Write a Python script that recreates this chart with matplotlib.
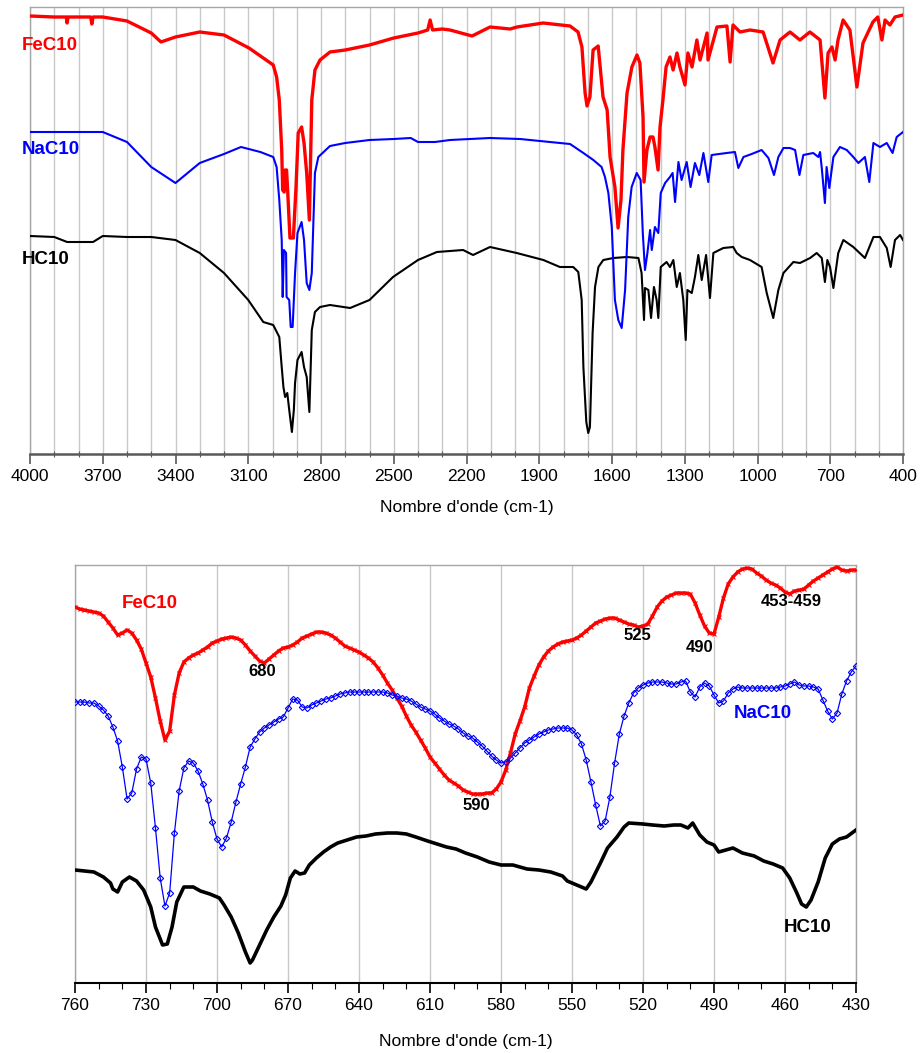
import matplotlib
matplotlib.use("Agg")
import matplotlib.pyplot as plt
import numpy as np
from matplotlib.ticker import FixedLocator

plt.rcParams['font.family'] = ['Liberation Sans', 'DejaVu Sans']

# ---------------- top panel data (wavenumber cm-1, transmittance a.u.) ----------------
fe_top_wn = [4000, 3900, 3850, 3847, 3843, 3750, 3745, 3740, 3700, 3600, 3500, 3460, 3400, 3300, 3200,
             3097, 3038, 2997, 2983, 2972, 2962, 2958, 2952, 2948, 2942, 2937, 2928, 2914, 2903, 2894,
             2880, 2870, 2859, 2848, 2838, 2825, 2804, 2763, 2700, 2600, 2500, 2400, 2360, 2350, 2340,
             2300, 2268, 2177, 2103, 2020, 1992, 1884, 1773, 1740, 1724, 1711, 1703, 1691, 1678, 1657,
             1637, 1620, 1608, 1588, 1575, 1563, 1555, 1538, 1518, 1497, 1485, 1472, 1468, 1456, 1443,
             1431, 1423, 1410, 1402, 1390, 1377, 1361, 1348, 1332, 1320, 1299, 1287, 1270, 1250, 1237,
             1208, 1204, 1167, 1126, 1113, 1101, 1072, 1031, 977, 957, 936, 907, 866, 825, 784, 742,
             722, 709, 693, 680, 668, 647, 619, 590, 565, 524, 504, 487, 474, 454, 433, 400]
fe_top_t = [438, 437, 437, 431, 437, 437, 430, 437, 437, 433, 421, 412, 417, 422, 419,
            406, 396, 389, 377, 354, 304, 264, 262, 284, 284, 261, 216, 216, 267, 321,
            327, 311, 281, 234, 354, 384, 394, 402, 404, 409, 416, 421, 424, 434, 424,
            425, 424, 418, 427, 425, 427, 431, 428, 422, 407, 361, 348, 357, 404, 408,
            357, 344, 297, 267, 226, 254, 304, 361, 387, 399, 391, 337, 272, 304, 317,
            317, 307, 284, 327, 354, 387, 397, 384, 401, 387, 369, 401, 387, 414, 394,
            421, 394, 427, 428, 392, 429, 422, 424, 422, 407, 391, 414, 422, 414, 422, 414,
            356, 401, 407, 394, 414, 434, 424, 367, 411, 432, 437, 414, 434, 429, 437, 439]

na_top_wn = [4000, 3700, 3600, 3500, 3400, 3300, 3200, 3130, 3050, 2997, 2983, 2972, 2962, 2958, 2953,
             2944, 2942, 2931, 2925, 2917, 2907, 2897, 2880, 2870, 2859, 2848, 2838, 2825, 2811, 2763,
             2700, 2600, 2500, 2430, 2400, 2330, 2268, 2103, 1979, 1856, 1773, 1718, 1677, 1643, 1629,
             1615, 1601, 1588, 1574, 1560, 1546, 1533, 1519, 1498, 1482, 1473, 1464, 1454, 1443, 1436,
             1423, 1409, 1399, 1381, 1361, 1350, 1340, 1326, 1313, 1292, 1276, 1258, 1240, 1223, 1203,
             1189, 1127, 1093, 1079, 1058, 1024, 983, 955, 932, 914, 893, 866, 845, 827, 811, 770,
             749, 742, 735, 722, 715, 704, 687, 660, 632, 605, 584, 557, 539, 522, 495, 467, 443,
             426, 400]
na_top_t = [322, 322, 312, 287, 271, 291, 300, 307, 302, 297, 287, 254, 214, 157, 204,
            201, 157, 154, 127, 127, 181, 221, 232, 214, 171, 164, 181, 281, 297, 308,
            311, 314, 315, 316, 312, 312, 314, 316, 315, 312, 310, 301, 294, 287, 277,
            261, 227, 154, 134, 126, 164, 237, 267, 281, 274, 221, 184, 201, 224, 204,
            227, 221, 261, 271, 277, 281, 252, 292, 274, 292, 267, 291, 279, 301, 272,
            299, 301, 302, 286, 297, 300, 304, 296, 279, 297, 306, 306, 304, 279, 299, 301,
            297, 302, 286, 251, 287, 266, 297, 307, 304, 297, 291, 297, 272, 311, 307, 311, 301,
            317, 322]

hc_top_wn = [4000, 3900, 3847, 3740, 3700, 3600, 3500, 3400, 3300, 3200, 3100, 3038, 2997, 2972, 2962,
             2955, 2948, 2939, 2931, 2920, 2912, 2907, 2897, 2880, 2870, 2859, 2848, 2838, 2825, 2804,
             2763, 2680, 2600, 2503, 2400, 2322, 2268, 2214, 2173, 2103, 1993, 1883, 1815, 1760, 1739,
             1725, 1718, 1706, 1698, 1691, 1680, 1670, 1656, 1636, 1594, 1539, 1491, 1478, 1468, 1464,
             1450, 1439, 1427, 1416, 1409, 1399, 1375, 1361, 1347, 1333, 1320, 1306, 1296, 1289, 1271,
             1258, 1244, 1230, 1212, 1196, 1182, 1141, 1100, 1086, 1065, 1031, 983, 962, 935, 914,
             893, 852, 825, 783, 756, 735, 722, 712, 701, 687, 667, 646, 605, 557, 522, 495, 467,
             451, 433, 412, 400]
hc_top_t = [218, 217, 212, 212, 218, 217, 217, 214, 201, 181, 154, 132, 129, 117, 87,
            67, 57, 61, 44, 22, 44, 71, 94, 102, 87, 77, 42, 124, 142, 147,
            149, 146, 154, 177, 194, 202, 203, 204, 199, 207, 201, 194, 187, 187, 182,
            154, 87, 32, 21, 27, 121, 167, 187, 194, 196, 197, 196, 181, 134, 166,
            164, 136, 167, 154, 136, 187, 192, 187, 194, 167, 181, 154, 114, 164, 161,
            177, 199, 174, 199, 156, 201, 206, 207, 201, 197, 194, 187, 161, 136, 164,
            181, 192, 191, 196, 201, 196, 172, 194, 187, 166, 201, 214, 207, 196, 217, 217, 206,
            187, 214, 219, 214]

# ---------------- bottom panel data (760-430 cm-1, step 2) ----------------
zoom_wn = list(range(760, 428, -2))
fe_zoom_t = [376, 374, 373, 372, 371, 370, 367, 361, 355, 348, 350, 353, 350, 343, 334, 320, 306, 285, 262, 243,
             252, 288, 310, 321, 325, 328, 330, 333, 336, 340, 342, 344, 345, 346, 345, 343, 338, 332, 327, 322,
             320, 324, 328, 332, 335, 336, 338, 341, 345, 347, 349, 351, 351, 350, 348, 345, 341, 337, 335, 333,
             331, 328, 325, 321, 315, 308, 300, 293, 285, 277, 267, 258, 251, 243, 235, 226, 220, 214, 208, 203,
             200, 197, 193, 191, 189, 189, 189, 190, 190, 194, 201, 213, 230, 249, 262, 276, 295, 307, 318, 326,
             332, 336, 339, 341, 342, 343, 345, 348, 352, 356, 360, 362, 364, 365, 365, 363, 361, 359, 358, 356,
             357, 359, 367, 376, 382, 386, 388, 390, 390, 390, 389, 380, 368, 357, 350, 349, 366, 385, 399, 406,
             411, 414, 415, 414, 410, 407, 403, 400, 398, 395, 391, 389, 392, 393, 394, 398, 402, 405, 408, 411,
             414, 416, 413, 412, 413, 413]
na_zoom_t = [281, 281, 281, 280, 280, 277, 273, 267, 256, 242, 216, 184, 190, 214, 226, 224, 200, 155, 105, 77,
             90, 150, 192, 215, 222, 220, 212, 199, 183, 161, 144, 136, 145, 161, 181, 199, 216, 236, 244, 251,
             255, 258, 261, 264, 266, 275, 284, 283, 276, 275, 278, 280, 282, 284, 285, 287, 289, 290, 291, 291,
             291, 291, 291, 291, 291, 291, 290, 288, 287, 285, 284, 282, 279, 276, 274, 272, 269, 265, 262, 259,
             257, 254, 250, 247, 245, 241, 237, 232, 227, 223, 220, 221, 225, 230, 235, 240, 243, 246, 249, 251,
             253, 254, 255, 255, 255, 253, 248, 239, 223, 201, 178, 157, 162, 186, 220, 249, 267, 280, 290, 295,
             298, 300, 301, 301, 301, 300, 299, 299, 301, 302, 291, 286, 296, 300, 297, 288, 280, 282, 290, 294,
             296, 295, 295, 295, 295, 295, 295, 295, 295, 296, 297, 299, 301, 298, 297, 297, 296, 294, 283, 272,
             264, 270, 289, 302, 311, 317]
hc_zoom_wn = [760, 752, 748, 745, 744, 742, 740, 737, 734, 731, 728, 726, 723, 721, 719, 717, 714, 710, 707, 703,
              699, 697, 694, 691, 688, 686, 685, 682, 679, 676, 673, 671, 669, 667, 665, 663, 661, 658, 655, 652,
              649, 645, 641, 637, 633, 628, 624, 620, 616, 611, 607, 603, 599, 595, 590, 585, 580, 575, 569, 564,
              559, 554, 552, 548, 544, 542, 538, 535, 531, 528, 526, 520, 516, 511, 507, 504, 501, 499, 496, 493,
              490, 488, 485, 482, 478, 473, 469, 465, 461, 458, 455, 453, 451, 449, 446, 443, 440, 437, 434, 430]
hc_zoom_t = [113, 111, 106, 100, 94, 91, 101, 106, 102, 93, 76, 56, 38, 39, 56, 81, 96, 96, 92, 89,
             85, 78, 66, 50, 31, 20, 23, 38, 53, 66, 77, 88, 105, 112, 109, 110, 118, 125, 131, 136,
             140, 143, 146, 147, 149, 150, 150, 149, 146, 142, 139, 136, 134, 130, 126, 121, 118, 118, 114, 113,
             111, 107, 102, 98, 94, 101, 120, 135, 146, 156, 160, 159, 158, 157, 158, 158, 155, 160, 148, 141,
             138, 131, 133, 135, 130, 127, 122, 119, 115, 105, 90, 79, 76, 83, 101, 125, 139, 144, 146, 153]

top_ticks = [4000, 3700, 3400, 3100, 2800, 2500, 2200, 1900, 1600, 1300, 1000, 700, 400]
bottom_ticks = [760, 730, 700, 670, 640, 610, 580, 550, 520, 490, 460, 430]

annot_text = ['680', '590', '525', '490', '453-459']

W, H = 921, 1053
fig = plt.figure(figsize=(W / 100, H / 100), dpi=100)


def fx(px):
    return px / W


def fy(py):
    return 1 - py / H


RED, BLUE = '#ff0000', '#0000ff'
GRID = '#c8c8c8'
FRAME = '#a6a6a6'

# ---------------- top axes ----------------
ax1 = fig.add_axes([fx(30), fy(454), fx(903) - fx(30), fy(7) - fy(454)])
ax1.plot(fe_top_wn, fe_top_t, color=RED, lw=2.4, zorder=3)
ax1.plot(na_top_wn, na_top_t, color=BLUE, lw=1.5, zorder=4)
ax1.plot(hc_top_wn, hc_top_t, color='black', lw=1.5, zorder=3)
ax1.set_xlim(4000, 400)
ax1.set_ylim(0, 447)
ax1.xaxis.set_major_locator(FixedLocator(top_ticks))
ax1.xaxis.set_minor_locator(FixedLocator(np.arange(400, 4001, 100)))
ax1.grid(True, which='minor', axis='x', color=GRID, lw=1.0)
ax1.grid(True, which='major', axis='x', color=GRID, lw=1.0)
ax1.set_yticks([])
for s in ['top', 'right', 'left']:
    ax1.spines[s].set_color(FRAME)
    ax1.spines[s].set_linewidth(1.0)
ax1.spines['bottom'].set_color('#595959')
ax1.spines['bottom'].set_linewidth(1.8)
ax1.tick_params(axis='x', which='major', direction='out', length=7, width=1.2, color='#595959',
                labelsize=12.5, pad=4)
ax1.tick_params(axis='x', which='minor', direction='inout', length=5, width=0.8, color='#595959')
ax1.set_xlabel("Nombre d'onde (cm-1)", fontsize=12.5, labelpad=11)
ax1.set_axisbelow(True)

lab_kw = dict(fontsize=13.5, fontweight='bold', ha='left', va='center')
fig.text(fx(22), fy(46), 'FeC10', color=RED, **lab_kw)
fig.text(fx(22), fy(150), 'NaC10', color=BLUE, **lab_kw)
fig.text(fx(22), fy(260), 'HC10', color='black', **lab_kw)

# ---------------- bottom axes ----------------
ax2 = fig.add_axes([fx(75), fy(983), fx(856) - fx(75), fy(565) - fy(983)])
ax2.plot(zoom_wn, fe_zoom_t, color=RED, lw=2.4, marker='x', ms=3.5, mew=0.8, zorder=3)
ax2.plot(zoom_wn, na_zoom_t, color=BLUE, lw=0.9, marker='D', ms=3.2, mfc='none', mew=0.8, zorder=4)
ax2.plot(hc_zoom_wn, hc_zoom_t, color='black', lw=2.6, zorder=3)
ax2.set_xlim(760, 430)
ax2.set_ylim(0, 418)
ax2.xaxis.set_major_locator(FixedLocator(bottom_ticks))
ax2.xaxis.set_minor_locator(FixedLocator(np.arange(430, 761, 10)))
ax2.grid(True, which='major', axis='x', color=GRID, lw=1.0)
ax2.set_yticks([])
for s in ['top', 'right', 'left']:
    ax2.spines[s].set_color(FRAME)
    ax2.spines[s].set_linewidth(1.0)
ax2.spines['bottom'].set_color('black')
ax2.spines['bottom'].set_linewidth(1.5)
ax2.tick_params(axis='x', which='major', direction='out', length=7, width=1.2, color='black',
                labelsize=12.5, pad=4)
ax2.tick_params(axis='x', which='minor', direction='out', length=4, width=0.8, color='black')
ax2.set_xlabel("Nombre d'onde (cm-1)", fontsize=12.5, labelpad=15)
ax2.set_axisbelow(True)

fig.text(fx(122), fy(603), 'FeC10', color=RED, **lab_kw)
fig.text(fx(734), fy(714), 'NaC10', color=BLUE, **lab_kw)
fig.text(fx(784), fy(927), 'HC10', color='black', **lab_kw)

annot_px = [(262, 672), (476, 806), (637, 636), (700, 647), (791, 602)]
for txt, (px, py) in zip(annot_text, annot_px):
    fig.text(fx(px), fy(py), txt, fontsize=12, fontweight='bold', ha='center', va='center')

fig.savefig('out.png', dpi=100)
